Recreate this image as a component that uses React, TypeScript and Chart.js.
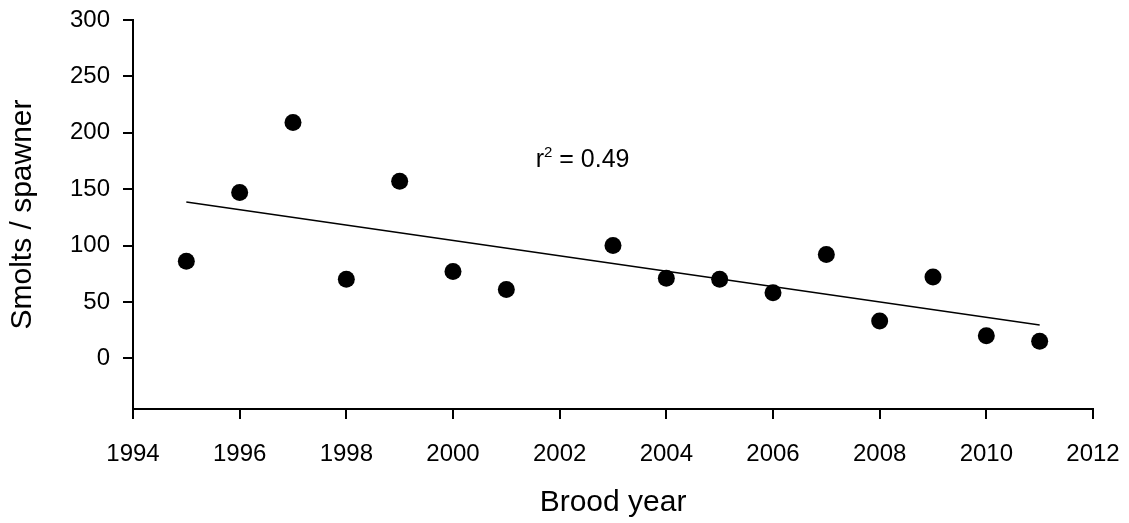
import React, { useEffect, useRef } from "react";
import { Chart, registerables } from "chart.js";

Chart.register(...registerables);

const broodYears = [1995, 1996, 1997, 1998, 1999, 2000, 2001, 2003, 2004, 2005, 2006, 2007, 2008, 2009, 2010, 2011];
const smoltsPerSpawner = [86, 147, 209, 70, 157, 77, 61, 100, 71, 70, 58, 92, 33, 72, 20, 15];
const xTitle = "Brood year";
const yTitle = "Smolts / spawner";
const r2Text = "0.49";
const r2Anchor = { x: 2001.55, y: 170 };

const FONT = "Arial, 'Liberation Sans', Helvetica, sans-serif";

function linearFit(xs: number[], ys: number[]) {
  const n = xs.length;
  const mx = xs.reduce((a, b) => a + b, 0) / n;
  const my = ys.reduce((a, b) => a + b, 0) / n;
  let sxy = 0;
  let sxx = 0;
  for (let i = 0; i < n; i++) {
    sxy += (xs[i] - mx) * (ys[i] - my);
    sxx += (xs[i] - mx) * (xs[i] - mx);
  }
  const slope = sxy / sxx;
  return { slope, intercept: my - slope * mx };
}

function zeroPadding(scale: any) {
  scale.paddingLeft = 0;
  scale.paddingRight = 0;
  scale.paddingTop = 0;
  scale.paddingBottom = 0;
}

export default function App() {
  const canvasRef = useRef<HTMLCanvasElement | null>(null);

  useEffect(() => {
    if (!canvasRef.current) return;
    const fit = linearFit(broodYears, smoltsPerSpawner);
    const x0 = broodYears[0];
    const x1 = broodYears[broodYears.length - 1];
    const trend = [
      { x: x0, y: fit.intercept + fit.slope * x0 },
      { x: x1, y: fit.intercept + fit.slope * x1 },
    ];

    const r2Plugin = {
      id: "r2label",
      afterDraw(chart: any) {
        const ctx = chart.ctx;
        const xs = chart.scales.x;
        const ys = chart.scales.y;
        const px = xs.getPixelForValue(r2Anchor.x);
        const py = ys.getPixelForValue(r2Anchor.y);
        ctx.save();
        ctx.fillStyle = "#000";
        ctx.textBaseline = "alphabetic";
        ctx.textAlign = "left";
        ctx.font = `25px ${FONT}`;
        ctx.fillText("r", px, py);
        let cx = px + ctx.measureText("r").width;
        ctx.font = `15px ${FONT}`;
        ctx.fillText("2", cx, py - 10);
        cx += ctx.measureText("2").width;
        ctx.font = `25px ${FONT}`;
        ctx.fillText(" = " + r2Text, cx, py);
        ctx.restore();
      },
    };

    const chart = new Chart(canvasRef.current, {
      type: "scatter",
      data: {
        datasets: [
          {
            type: "scatter",
            data: broodYears.map((x, i) => ({ x, y: smoltsPerSpawner[i] })),
            backgroundColor: "#000",
            borderColor: "#000",
            pointRadius: 8.5,
            pointHoverRadius: 8.5,
            borderWidth: 0,
          },
          {
            type: "line",
            data: trend,
            borderColor: "#000",
            borderWidth: 1.5,
            pointRadius: 0,
            fill: false,
          } as any,
        ],
      },
      options: {
        animation: false,
        responsive: true,
        maintainAspectRatio: false,
        layout: { padding: { left: 0, right: 36, top: 20, bottom: 0 } },
        plugins: {
          legend: { display: false },
          tooltip: { enabled: false },
        },
        scales: {
          x: {
            type: "linear",
            min: 1994,
            max: 2012,
            afterFit(scale: any) {
              scale.height = 114;
              zeroPadding(scale);
            },
            ticks: {
              stepSize: 2,
              maxRotation: 0,
              color: "#000",
              font: { family: FONT, size: 24 },
              padding: 21,
              callback: (v: any) => String(v),
            },
            grid: {
              drawOnChartArea: false,
              drawTicks: true,
              tickLength: 10,
              color: "#000",
              lineWidth: 2,
            },
            border: { display: true, color: "#000", width: 2 },
            title: {
              display: true,
              text: xTitle,
              color: "#000",
              font: { family: FONT, size: 30 },
              padding: { top: 0, bottom: 2 },
            },
          },
          y: {
            type: "linear",
            min: -45,
            max: 300,
            afterFit(scale: any) {
              scale.width = 133;
              zeroPadding(scale);
            },
            ticks: {
              stepSize: 50,
              includeBounds: false,
              color: "#000",
              font: { family: FONT, size: 24 },
              padding: 13,
            },
            grid: {
              drawOnChartArea: false,
              drawTicks: true,
              tickLength: 10,
              color: "#000",
              lineWidth: 2,
            },
            border: { display: true, color: "#000", width: 2 },
            title: {
              display: true,
              text: yTitle,
              color: "#000",
              font: { family: FONT, size: 30 },
              padding: { top: 5, bottom: 0 },
            },
          },
        },
      },
      plugins: [r2Plugin],
    });
    return () => chart.destroy();
  }, []);

  return (
    <div style={{ position: "fixed", left: 0, top: 0, width: 1129, height: 523, background: "#fff" }}>
      <canvas ref={canvasRef} />
    </div>
  );
}
